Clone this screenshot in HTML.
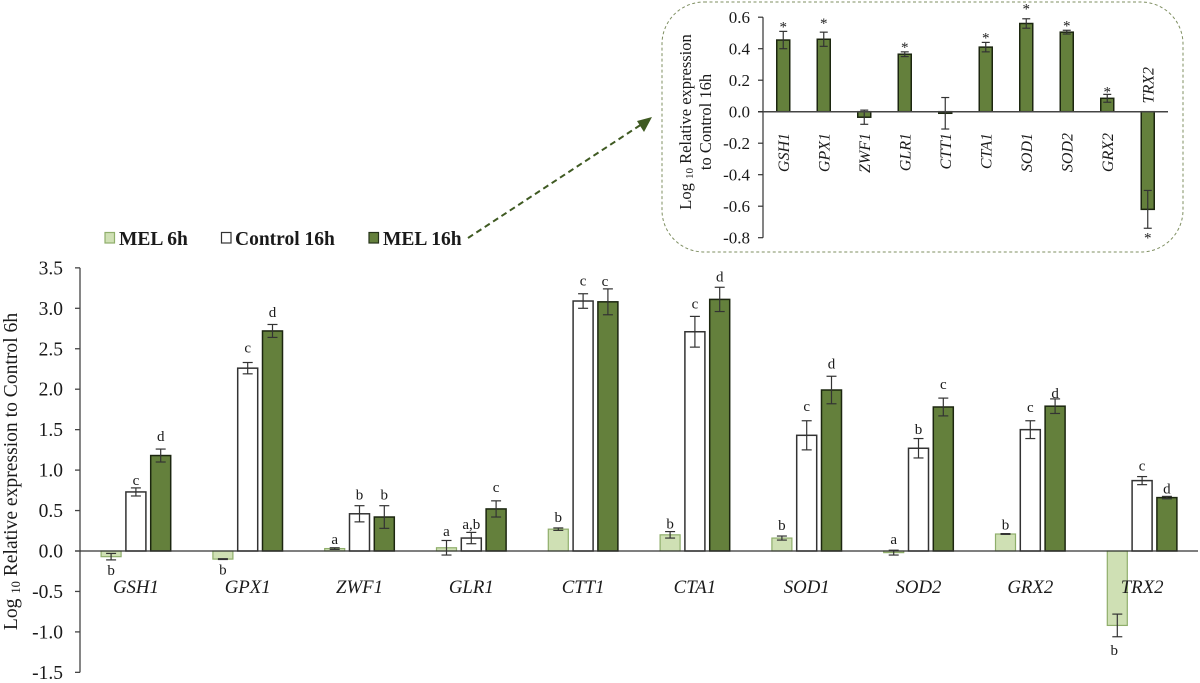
<!DOCTYPE html>
<html lang="en">
<head>
<meta charset="utf-8">
<title>Relative expression chart</title>
<style>
html,body{margin:0;padding:0;background:#fff;}
svg{display:block;font-family:"Liberation Serif",serif;}
</style>
</head>
<body>
<svg id="chart" xmlns="http://www.w3.org/2000/svg" width="1200" height="683" viewBox="0 0 1200 683">
  <g id="legend" font-family="Liberation Serif" font-weight="bold" font-size="19.5" fill="#1a1a1a">
    <g>
      <rect x="105" y="232.5" width="9.5" height="10.5" fill="#cfe0b4" stroke="#8fae6b" stroke-width="1.2"/>
      <text x="119" y="245">MEL 6h</text>
    </g>
    <g>
      <rect x="221.5" y="232.5" width="9.5" height="10.5" fill="#fff" stroke="#333" stroke-width="1.2"/>
      <text x="235" y="245">Control 16h</text>
    </g>
    <g>
      <rect x="369" y="232.5" width="9.5" height="10.5" fill="#64803c" stroke="#26331a" stroke-width="1.2"/>
      <text x="383" y="245">MEL 16h</text>
    </g>
  </g>
  <g>
    <line x1="468" y1="238" x2="642" y2="124" stroke="#3f5a22" stroke-width="2" stroke-dasharray="6 4"/>
    <polygon points="652,117 637,121 644,132" fill="#3f5a22"/>
  </g>
  <rect x="662" y="2" width="521" height="250" rx="42" ry="42" fill="#fff" stroke="#7f8f62" stroke-width="1" stroke-dasharray="3 2.5"/>
  <g id="main"></g>
  <g id="inset"></g>
  <text transform="translate(17,471.5) rotate(-90)" text-anchor="middle" font-size="19.6" fill="#1a1a1a">Log <tspan font-size="12.5" dy="3">10</tspan><tspan dy="-3"> Relative expression to Control 6h</tspan></text>
  <text transform="translate(691,122) rotate(-90)" text-anchor="middle" font-size="16.5" fill="#1a1a1a">Log <tspan font-size="11" dy="2">10</tspan><tspan dy="-2"> Relative expression</tspan></text>
  <text transform="translate(711,122) rotate(-90)" text-anchor="middle" font-size="16.5" fill="#1a1a1a">to Control 16h</text>
</svg>
<script>
var genes = ['GSH1','GPX1','ZWF1','GLR1','CTT1','CTA1','SOD1','SOD2','GRX2','TRX2'];
var mainTicks = ['3.5','3.0','2.5','2.0','1.5','1.0','0.5','0.0','-0.5','-1.0','-1.5'];
var mel6Values = [-0.07,-0.10,0.03,0.04,0.27,0.20,0.16,-0.02,0.21,-0.92];
var mel6Errors = [0.04,0.005,0.01,0.09,0.015,0.04,0.025,0.03,0.005,0.14];
var mel6Letters = ['b','b','a','a','b','b','b','a','b','b'];
var control16Values = [0.73,2.26,0.46,0.16,3.09,2.71,1.43,1.27,1.50,0.87];
var control16Errors = [0.05,0.07,0.10,0.07,0.09,0.19,0.18,0.12,0.11,0.05];
var control16Letters = ['c','c','b','a,b','c','c','c','b','c','c'];
var mel16Values = [1.18,2.72,0.42,0.52,3.08,3.11,1.99,1.78,1.79,0.66];
var mel16Errors = [0.08,0.08,0.14,0.10,0.16,0.15,0.17,0.11,0.09,0.015];
var mel16Letters = ['d','d','b','c','c','d','d','c','d','d'];
var insetTicks = ['0.6','0.4','0.2','0.0','-0.2','-0.4','-0.6','-0.8'];
var insetValues = [0.455,0.46,-0.035,0.365,-0.01,0.41,0.56,0.505,0.085,-0.62];
var insetErrors = [0.055,0.045,0.045,0.015,0.10,0.03,0.03,0.012,0.025,0.12];
var insetStars = ['*','*','','*','','*','*','*','*','*'];

var NS = 'http://www.w3.org/2000/svg';
function add(parent, tag, attrs, text) {
  var el = document.createElementNS(NS, tag);
  for (var k in attrs) el.setAttribute(k, attrs[k]);
  if (text !== undefined) el.textContent = text;
  parent.appendChild(el);
  return el;
}
var mainX = function (i) { return 80 + 111.8 * (i + 0.5); };
var mainY = function (v) { return 551 - 80.9 * v; };
var insetX = function (i) { return 763 + 40.5 * (i + 0.5); };
var insetY = function (v) { return 111.7 - 157.5 * v; };

function drawError(parent, name, x, y, cap, stroke) {
  var g = add(parent, 'g', {stroke: stroke, 'stroke-width': 1.2, fill: 'none'});
  
  
  add(g, 'line', {x1: x, x2: x, y1: y[0], y2: y[1]});
  add(g, 'line', {x1: x - cap, x2: x + cap, y1: y[0], y2: y[0]});
  add(g, 'line', {x1: x - cap, x2: x + cap, y1: y[1], y2: y[1]});
}

var mainG = document.getElementById('main');
var seriesList = [
  {key: 'mel-6h', vals: mel6Values, errs: mel6Errors, letters: mel6Letters, off: -24.8, fill: '#cfe0b4', stroke: '#8fae6b', sw: 1.2},
  {key: 'control-16h', vals: control16Values, errs: control16Errors, letters: control16Letters, off: 0, fill: '#ffffff', stroke: '#333333', sw: 1.5},
  {key: 'mel-16h', vals: mel16Values, errs: mel16Errors, letters: mel16Letters, off: 24.8, fill: '#64803c', stroke: '#1c2610', sw: 1.5}
];
/* hand adjustments for letter placement relative to the default gap above the error bar */
var letterShift = {
  'mel-6h:2': 2, 'mel-6h:5': 3, 'mel-6h:8': 2, 'mel-6h:9': 3, 'mel-6h:3': 1.5,
  'control-16h:0': 3, 'control-16h:1': -4, 'control-16h:3': 2.5, 'control-16h:4': -2, 'control-16h:5': -2,
  'control-16h:6': -4, 'control-16h:7': 1.5, 'control-16h:8': -3,
  'mel-16h:0': -2, 'mel-16h:1': -1.5, 'mel-16h:3': -3, 'mel-16h:4': 3, 'mel-16h:6': -2, 'mel-16h:7': -3,
  'mel-16h:8': 5, 'mel-16h:9': 3
};
seriesList.forEach(function (s) {
  s.vals.forEach(function (v, i) {
    var cx = mainX(i) + s.off;
    var top = Math.min(mainY(v), mainY(0));
    var h = Math.abs(mainY(v) - mainY(0));
    var bar = add(mainG, 'rect', {x: cx - 10, y: top, width: 20, height: h, fill: s.fill, stroke: s.stroke, 'stroke-width': s.sw});
    
    
    var hi = mainY(v + s.errs[i]);
    var lo = mainY(v - s.errs[i]);
    drawError(mainG, 'error-bar-' + genes[i].toLowerCase() + '-' + s.key, cx, [hi, lo], 5, '#333333');
    var ly = (v < -0.05 ? lo + 15 : hi - 6) + (letterShift[s.key + ':' + i] || 0);
    var lx = cx - (s.key === 'mel-16h' && i === 4 ? 3 : 0) + (s.key === 'mel-6h' && i === 9 ? -3 : 0);
    var label = add(mainG, 'text', {x: lx, y: ly, 'text-anchor': 'middle', 'font-size': 15, fill: '#1a1a1a'}, s.letters[i]);
    
    
  });
});
var mainYAxis = add(mainG, 'line', {x1: 80, x2: 80, y1: mainY(3.5), y2: mainY(-1.5), stroke: '#444', 'stroke-width': 1.3});


var mainXAxis = add(mainG, 'line', {x1: 75, x2: 1198, y1: mainY(0), y2: mainY(0), stroke: '#333', 'stroke-width': 1.3});


mainTicks.forEach(function (t) {
  var y = mainY(parseFloat(t));
  var tick = add(mainG, 'line', {x1: 75, x2: 80, y1: y, y2: y, stroke: '#444', 'stroke-width': 1.3});
  
  
  var label = add(mainG, 'text', {x: 63, y: y + 6.5, 'text-anchor': 'end', 'font-size': 19.5, fill: '#1a1a1a'}, t);
  
  
});
genes.forEach(function (g, i) {
  var label = add(mainG, 'text', {x: mainX(i), y: 593, 'text-anchor': 'middle', 'font-size': 18.8, 'font-style': 'italic', fill: '#1a1a1a'}, g);
  
  
});

var insetG = document.getElementById('inset');
var starShift = {1: -4, 6: -5.5, 8: 2};
insetValues.forEach(function (v, i) {
  var cx = insetX(i);
  var top = Math.min(insetY(v), insetY(0));
  var h = Math.abs(insetY(v) - insetY(0));
  var bar = add(insetG, 'rect', {x: cx - 6.5, y: top, width: 13, height: h, fill: '#64803c', stroke: '#1c2610', 'stroke-width': 1.5});
  
  
  var hi = insetY(v + insetErrors[i]);
  var lo = insetY(v - insetErrors[i]);
  drawError(insetG, 'inset-error-bar-' + genes[i].toLowerCase(), cx, [hi, lo], 4, '#333333');
  if (insetStars[i]) {
    var star = add(insetG, 'text', {x: cx, y: (v < 0 ? lo + 14 : hi) + (starShift[i] || 0), 'text-anchor': 'middle', 'font-size': 15, fill: '#222'}, insetStars[i]);
    
    
  }
  var endY = v < -0.1 ? 67 : 133;
  var label = add(insetG, 'text', {transform: 'translate(' + (cx + 5.5) + ',' + endY + ') rotate(-90)', 'text-anchor': 'end', 'font-size': 16, 'font-style': 'italic', fill: '#1a1a1a'}, genes[i]);
  
  
});
var insetYAxis = add(insetG, 'line', {x1: 763, x2: 763, y1: insetY(0.6), y2: insetY(-0.8), stroke: '#333', 'stroke-width': 1.2});


var insetXAxis = add(insetG, 'line', {x1: 758, x2: 1168, y1: insetY(0), y2: insetY(0), stroke: '#444', 'stroke-width': 1.5});


insetTicks.forEach(function (t) {
  var y = insetY(parseFloat(t));
  var tick = add(insetG, 'line', {x1: 758, x2: 763, y1: y, y2: y, stroke: '#333', 'stroke-width': 1.2});
  
  
  var label = add(insetG, 'text', {x: 750, y: y + 6, 'text-anchor': 'end', 'font-size': 17, fill: '#1a1a1a'}, t);
  
  
});
</script>
</body>
</html>
